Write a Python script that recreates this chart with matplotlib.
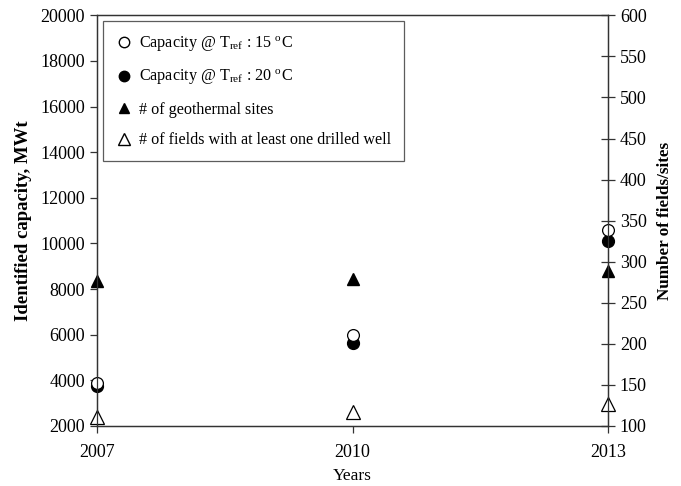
import matplotlib.pyplot as plt
from matplotlib.lines import Line2D

plt.rcParams['font.family'] = ['Liberation Serif', 'DejaVu Serif']
plt.rcParams['mathtext.fontset'] = 'custom'
plt.rcParams['mathtext.rm'] = 'Liberation Serif'
plt.rcParams['mathtext.it'] = 'Liberation Serif:italic'

years = [2007, 2010, 2013]
cap_15 = [3900, 6000, 10600]
cap_20 = [3750, 5620, 10100]
geo_sites = [277, 279, 289]
drilled_fields = [111, 117, 127]

fig = plt.figure(figsize=(6.81, 4.86), dpi=100)
ax = fig.add_axes([0.1424, 0.1235, 0.7505, 0.845])
ax2 = ax.twinx()

ax.plot(years, cap_15, 'o', ms=8.5, mfc='white', mec='black', mew=0.9, clip_on=False, zorder=5)
ax.plot(years, cap_20, 'o', ms=8.5, mfc='black', mec='black', clip_on=False, zorder=4)
ax2.plot(years, geo_sites, '^', ms=8.5, mfc='black', mec='black', clip_on=False)
ax2.plot(years, drilled_fields, '^', ms=9.5, mfc='white', mec='black', mew=0.9, clip_on=False)

ax.set_xlim(2007, 2013)
ax.set_xticks(years)
ax.set_ylim(2000, 20000)
ax.set_yticks(range(2000, 20001, 2000))
ax2.set_ylim(100, 600)
ax2.set_yticks(range(100, 601, 50))

for a in (ax, ax2):
    for s in a.spines.values():
        s.set_color('#333333')
        s.set_linewidth(0.9)
ax.tick_params(axis='both', direction='out', length=5, width=0.9, labelsize=13, color='#333333')
ax.tick_params(axis='x', pad=8)
ax2.tick_params(axis='y', direction='inout', length=10, width=0.9, labelsize=13, color='#333333')

ax.set_xlabel('Years', fontsize=12.5, labelpad=5)
ax.set_ylabel('Identified capacity, MWt', fontsize=13.5, fontweight='bold', labelpad=6)
ax2.set_ylabel('Number of fields/sites', fontsize=12.3, fontweight='bold', labelpad=7)

handles = [
    Line2D([], [], ls='none', marker='o', ms=7.5, mfc='white', mec='black'),
    Line2D([], [], ls='none', marker='o', ms=7.5, mfc='black', mec='black'),
    Line2D([], [], ls='none', marker='^', ms=7.5, mfc='black', mec='black'),
    Line2D([], [], ls='none', marker='^', ms=8.5, mfc='white', mec='black'),
]
labels = [
    r'Capacity @ T$_{\mathrm{ref}}$ : 15 $^{\mathrm{o}}$C',
    r'Capacity @ T$_{\mathrm{ref}}$ : 20 $^{\mathrm{o}}$C',
    '# of geothermal sites',
    '# of fields with at least one drilled well',
]
leg = ax2.legend(handles, labels, loc='upper left', bbox_to_anchor=(0.012, 0.985),
                 fontsize=11.6, frameon=True, fancybox=False, edgecolor='#333333',
                 labelspacing=0.9, handlelength=1.0, handletextpad=0.45,
                 borderpad=0.8, borderaxespad=0)
leg.get_frame().set_linewidth(0.9)

fig.savefig('out.png', dpi=100)
